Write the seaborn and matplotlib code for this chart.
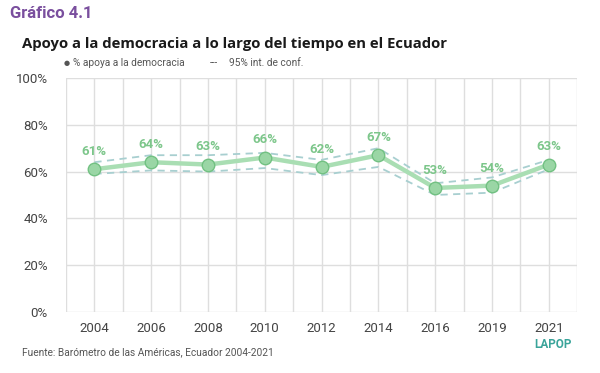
import matplotlib
matplotlib.use("Agg")
import matplotlib.pyplot as plt
import seaborn as sns
import pandas as pd
import numpy as np

years = ["2004", "2006", "2008", "2010", "2012", "2014", "2016", "2019", "2021"]
support = [61, 64, 63, 66, 62, 67, 53, 54, 63]
upper_ci = [64, 67, 67, 68, 65, 70, 55, 57.5, 65]
lower_ci = [59, 60.5, 60, 61.5, 58.5, 62, 50, 51, 61]
y_ticks = [0, 20, 40, 60, 80, 100]

sns.set_theme(style="white")
plt.rcParams['font.family'] = ['Roboto', 'DejaVu Sans']

df = pd.DataFrame({"pos": np.arange(len(years)), "year": years,
                   "support": support, "upper": upper_ci, "lower": lower_ci})

fig = plt.figure(figsize=(6.0, 3.73), dpi=100)
ax = fig.add_axes([0.11, 0.1635, 0.852, 0.6275])

ci_color = "#a8cfd0"
sns.lineplot(data=df, x="pos", y="upper", ax=ax, color=ci_color, lw=1.3,
             linestyle=(0, (4, 3)), zorder=2)
sns.lineplot(data=df, x="pos", y="lower", ax=ax, color=ci_color, lw=1.3,
             linestyle=(0, (4, 3)), zorder=2)
sns.lineplot(data=df, x="pos", y="support", ax=ax, color="#a9deb3", lw=3.2,
             marker="o", markersize=9, markerfacecolor="#9ad6a5",
             markeredgecolor="#72c182", markeredgewidth=1.0, zorder=3)

for i, v in enumerate(support):
    ax.annotate(f"{v}%", (i, v), xytext=(0, 8), textcoords="offset points",
                ha="center", va="bottom", fontsize=9.5, fontweight="bold",
                color="#7cc68a", zorder=4)

ax.set_xlim(-0.5, len(years) - 0.5)
ax.set_ylim(0, 100)
ax.set_xticks(range(len(years)))
ax.set_xticklabels(years)
ax.set_xticks(np.arange(-0.5, len(years), 1.0), minor=True)
ax.set_yticks(y_ticks)
ax.set_yticklabels([f"{t}%" for t in y_ticks])
ax.grid(True, which="both", axis="x", color="#dedede", lw=1.0)
ax.grid(True, which="major", axis="y", color="#dedede", lw=1.0)
ax.set_axisbelow(True)
for s in ax.spines.values():
    s.set_visible(False)
ax.tick_params(axis="both", which="both", length=0, labelsize=9.5, colors="#444444")
ax.tick_params(axis="y", pad=13)
ax.tick_params(axis="x", pad=7)
ax.set_xlabel("")
ax.set_ylabel("")

fig.text(10/600, 1 - 14/373, "Gráfico 4.1", fontsize=12, fontweight="bold",
         color="#7a4f9e", va="center", ha="left")
fig.text(22/600, 1 - 44/373, "Apoyo a la democracia a lo largo del tiempo en el Ecuador",
         fontsize=10.7, fontweight="bold", color="#1a1a1a", va="center", ha="left",
         family=["Open Sans", "DejaVu Sans"])
fig.text(64/600, 1 - 63/373, "●", fontsize=5, color="#555555", va="center", ha="left")
fig.text(73/600, 1 - 63/373, "% apoya a la democracia", fontsize=7.3, color="#555555",
         va="center", ha="left")
fig.text(210/600, 1 - 63/373, "---", fontsize=7, color="#555555", va="center", ha="left")
fig.text(229/600, 1 - 63/373, "95% int. de conf.", fontsize=7.3, color="#555555",
         va="center", ha="left")
fig.text(22/600, 1 - 352/373, "Fuente: Barómetro de las Américas, Ecuador 2004-2021",
         fontsize=7.3, color="#555555", va="center", ha="left")
fig.text(572/600, 1 - 345/373, "LAPOP", fontsize=8.5, fontweight="bold",
         color="#3aa49a", va="center", ha="right", fontstretch="condensed")

fig.savefig("out.png", dpi=100)
